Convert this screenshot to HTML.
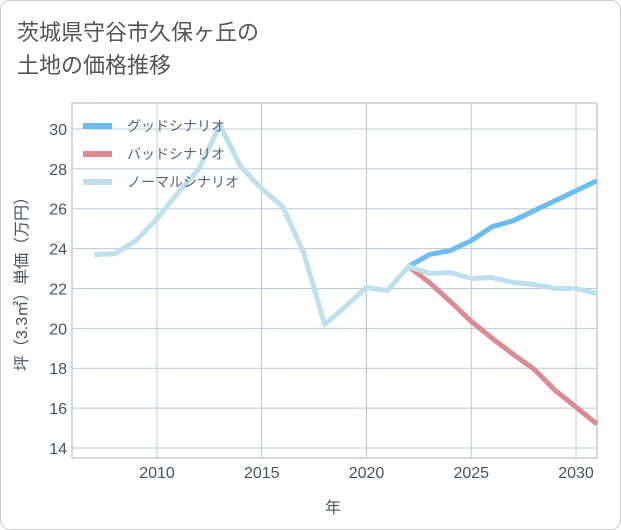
<!DOCTYPE html>
<html><head><meta charset="utf-8"><style>
body{margin:0;background:#fff;font-family:"Liberation Sans","Noto Sans CJK JP",sans-serif;}
.card{position:absolute;left:0;top:0;width:619px;height:528px;border:1px solid #ccc;border-radius:10px;background:#fff;}
.title{position:absolute;left:17px;top:16px;font-size:22px;line-height:33px;color:#555;}
</style></head><body>
<div class="card"></div>
<div class="title">茨城県守谷市久保ヶ丘の<br>土地の価格推移</div>
<svg id="c" width="621" height="530" style="position:absolute;left:0;top:0"></svg>
<script>
const years=[2007,2008,2009,2010,2011,2012,2013,2014,2015,2016,2017,2018,2019,2020,2021,2022,2023,2024,2025,2026,2027,2028,2029,2030,2031];
const normal=[23.7,23.75,24.4,25.5,26.8,28.0,30.2,28.1,27.0,26.1,23.8,20.2,21.1,22.05,21.9,23.1,22.75,22.8,22.5,22.55,22.3,22.2,22.0,22.0,21.75];
const goodYears=[2022,2023,2024,2025,2026,2027,2028,2029,2030,2031];
const good=[23.1,23.7,23.9,24.4,25.1,25.4,25.9,26.4,26.9,27.4];
const bad=[23.1,22.3,21.35,20.35,19.5,18.7,17.95,16.9,16.05,15.2];
const xTicks=[2010,2015,2020,2025,2030];
const yTicks=[14,16,18,20,22,24,26,28,30];
const NS='http://www.w3.org/2000/svg';
const svg=document.getElementById('c');
const L=72,R=597,T=103,B=458;
const x=v=>157+(v-2010)*20.95;
const y=v=>448-(v-14)*19.94;
function el(t,a,p){const e=document.createElementNS(NS,t);for(const k in a)e.setAttribute(k,a[k]);(p||svg).appendChild(e);return e;}
const bg=el('rect',{x:L,y:T,width:R-L,height:B-T,fill:'#fff',stroke:'#aab4c0'});


yTicks.forEach(t=>{
 const g=el('line',{x1:L,x2:R,y1:y(t),y2:y(t),stroke:'#b8cad8','stroke-width':1});
 
 
 const tx=el('text',{x:L-5,y:y(t)+6,'text-anchor':'end','font-size':16,fill:'#445566'});
 tx.textContent=t;
 
 
});
xTicks.forEach(t=>{
 const g=el('line',{x1:x(t),x2:x(t),y1:T,y2:B,stroke:'#b8cad8','stroke-width':1});
 
 
 const tx=el('text',{x:x(t),y:478,'text-anchor':'middle','font-size':16,fill:'#445566'});
 tx.textContent=t;
 
 
});
function line(xs,vs,color,name){
 const p=el('polyline',{points:xs.map((v,i)=>x(v)+','+y(vs[i])).join(' '),fill:'none',stroke:color,'stroke-width':5,'stroke-linejoin':'round'});
 
 
}
const clip=el('clipPath',{id:'cp'});el('rect',{x:L,y:T,width:R-L,height:B-T},clip);
line(goodYears,good,'#6bbcf0','good-scenario-line');
line(goodYears,bad,'#dd8a92','bad-scenario-line');
line(years,normal,'#bde0ee','normal-scenario-line');
const leg=[['グッドシナリオ','#6bbcf0'],['バッドシナリオ','#dd8a92'],['ノーマルシナリオ','#bde0ee']];
leg.forEach((l,i)=>{
 const yy=126+i*28;
 const g=el('g',{});
 
 
 el('line',{x1:83,x2:112,y1:yy,y2:yy,stroke:l[1],'stroke-width':6},g);
 const t=el('text',{x:127,y:yy+5,'font-size':14,fill:'#556677'},g);t.textContent=l[0];
});
const yt=el('text',{transform:'translate(27,280) rotate(-90)','text-anchor':'middle','font-size':16,fill:'#445566'});
yt.textContent='坪（3.3㎡）単価（万円）';


const xt=el('text',{x:333,y:513,'text-anchor':'middle','font-size':16,fill:'#445566'});
xt.textContent='年';


</script>
</body></html>
